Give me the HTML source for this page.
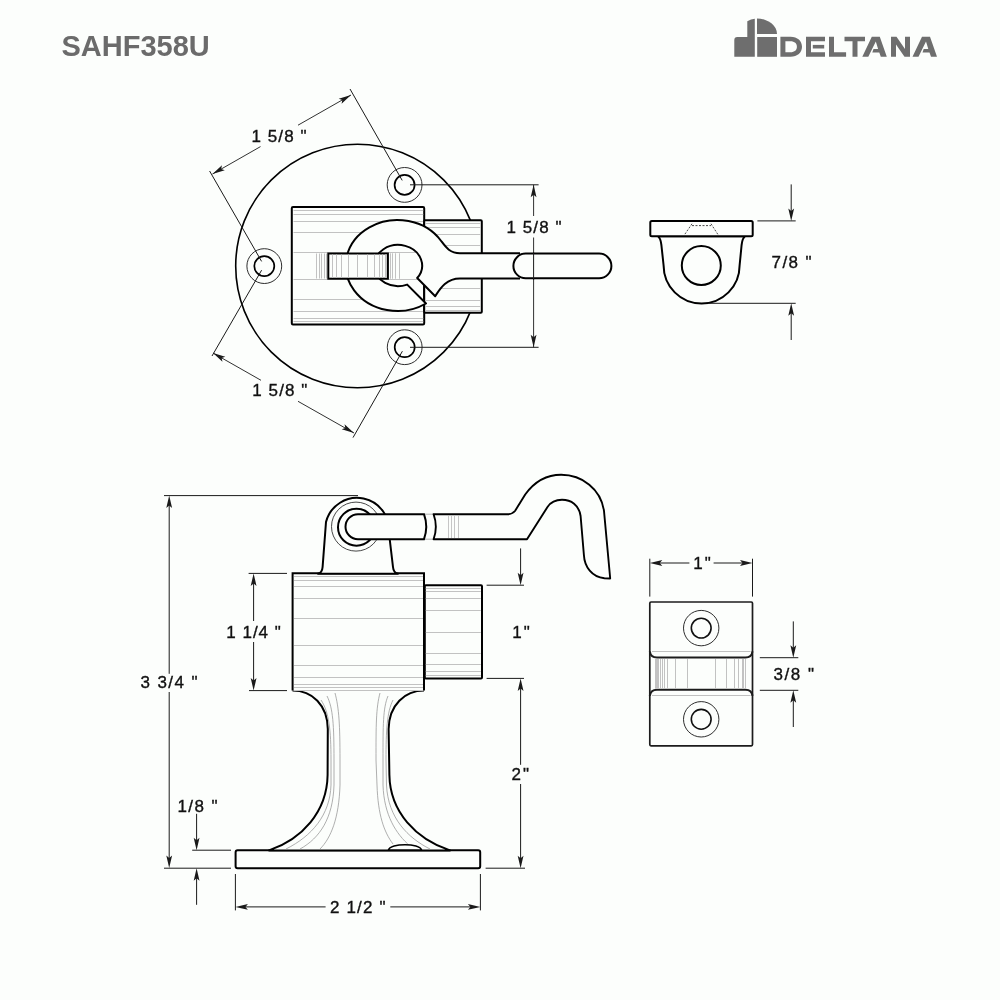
<!DOCTYPE html>
<html><head><meta charset="utf-8"><style>
html,body{margin:0;padding:0;background:#fcfefc;}
svg{display:block;will-change:transform;}
</style></head><body>
<svg width="1000" height="1000" viewBox="0 0 1000 1000">
<rect width="1000" height="1000" fill="#fcfefc"/>
<text x="61.5" y="55.8" font-family="Liberation Sans" font-size="29" font-weight="bold" fill="#6b6b6b">SAHF358U</text>
<path d="M734.3 40 Q734.3 37 737.3 37 L747.3 37 L747.3 21.3 Q751 19.2 754.8 18.8 L754.8 56.8 L734.3 56.8 Z" fill="#6e6e6e"/>
<path d="M757 18.5 A20 15.5 0 0 1 777 34 L757 34 Z" fill="#6e6e6e"/>
<rect x="757.2" y="37" width="19.8" height="19.8" fill="#6e6e6e"/>
<path d="M780.4 36.8 L790.5 36.8 C797.5 36.8 802 41 802 46.8 C802 52.6 797.5 56.8 790.5 56.8 L780.4 56.8 Z M785.4 41.3 L785.4 52.3 L790.3 52.3 C794.8 52.3 796.9 50 796.9 46.8 C796.9 43.6 794.8 41.3 790.3 41.3 Z" fill="#6e6e6e" fill-rule="evenodd"/>
<path d="M806 36.8 L825 36.8 L825 41.3 L811 41.3 L811 52.3 L825 52.3 L825 56.8 L806 56.8 Z" fill="#6e6e6e"/>
<rect x="812.8" y="44.9" width="11.4" height="3.6" fill="#6e6e6e"/>
<path d="M829 36.8 L834 36.8 L834 52.3 L846.1 52.3 L846.1 56.8 L829 56.8 Z" fill="#6e6e6e"/>
<path d="M844.5 36.8 L865 36.8 L865 41.3 L857.5 41.3 L857.5 56.8 L852.5 56.8 L852.5 41.3 L844.5 41.3 Z" fill="#6e6e6e"/>
<path d="M871.8 36.8 L879.8 36.8 L886.8 56.8 L880.8 56.8 L879.3 52.6 L872.3 52.6 L873.5 49 L878.1 49 L875.8 41.5 L868.3 56.8 L862.3 56.8 Z" fill="#6e6e6e"/>
<path d="M891 36.8 L896.5 36.8 L905 49 L905 36.8 L910 36.8 L910 56.8 L904.5 56.8 L896 44.6 L896 56.8 L891 56.8 Z" fill="#6e6e6e"/>
<path d="M922.0 36.8 L930.0 36.8 L937.0 56.8 L931.0 56.8 L929.5 52.6 L922.5 52.6 L923.7 49 L928.3 49 L926.0 41.5 L918.5 56.8 L912.5 56.8 Z" fill="#6e6e6e"/>
<circle cx="357.5" cy="266" r="121.8" fill="none" stroke="#000" stroke-width="1.6"/>
<circle cx="264.3" cy="266.1" r="17.4" fill="#fcfefc" stroke="#222" stroke-width="0.95"/>
<circle cx="264.3" cy="266.1" r="10" fill="none" stroke="#000" stroke-width="1.7"/>
<circle cx="404.6" cy="184.9" r="17.4" fill="#fcfefc" stroke="#222" stroke-width="0.95"/>
<circle cx="404.6" cy="184.9" r="10" fill="none" stroke="#000" stroke-width="1.7"/>
<circle cx="404.7" cy="347.2" r="17.4" fill="#fcfefc" stroke="#222" stroke-width="0.95"/>
<circle cx="404.7" cy="347.2" r="10" fill="none" stroke="#000" stroke-width="1.7"/>
<line x1="350.00" y1="89.00" x2="402.20" y2="180.40" stroke="#1a1a1a" stroke-width="1.0"/>
<line x1="209.60" y1="171.00" x2="261.60" y2="261.40" stroke="#1a1a1a" stroke-width="1.0"/>
<line x1="212.00" y1="356.00" x2="261.60" y2="270.20" stroke="#1a1a1a" stroke-width="1.0"/>
<line x1="353.00" y1="437.60" x2="402.40" y2="351.20" stroke="#1a1a1a" stroke-width="1.0"/>
<line x1="410.00" y1="184.80" x2="538.60" y2="184.80" stroke="#1a1a1a" stroke-width="1.0"/>
<line x1="410.00" y1="347.30" x2="538.60" y2="347.30" stroke="#1a1a1a" stroke-width="1.0"/>
<line x1="212.50" y1="174.00" x2="260.50" y2="146.60" stroke="#1a1a1a" stroke-width="0.9"/>
<line x1="298.00" y1="125.20" x2="351.00" y2="95.00" stroke="#1a1a1a" stroke-width="0.9"/>
<path d="M212.50 174.00 L221.92 165.29 L221.19 169.05 L224.79 170.33 Z" fill="#1a1a1a"/>
<path d="M351.00 95.00 L341.58 103.71 L342.31 99.95 L338.71 98.67 Z" fill="#1a1a1a"/>
<line x1="213.00" y1="353.00" x2="261.00" y2="380.30" stroke="#1a1a1a" stroke-width="0.9"/>
<line x1="298.00" y1="401.30" x2="354.00" y2="433.00" stroke="#1a1a1a" stroke-width="0.9"/>
<path d="M213.00 353.00 L225.30 356.65 L221.70 357.93 L222.44 361.69 Z" fill="#1a1a1a"/>
<path d="M354.00 433.00 L341.70 429.35 L345.30 428.07 L344.56 424.31 Z" fill="#1a1a1a"/>
<line x1="533.60" y1="184.80" x2="533.60" y2="216.00" stroke="#1a1a1a" stroke-width="0.9"/>
<line x1="533.60" y1="237.50" x2="533.60" y2="347.30" stroke="#1a1a1a" stroke-width="0.9"/>
<path d="M533.60 184.80 L536.50 197.30 L533.60 194.80 L530.70 197.30 Z" fill="#1a1a1a"/>
<path d="M533.60 347.30 L530.70 334.80 L533.60 337.30 L536.50 334.80 Z" fill="#1a1a1a"/>
<text class="dt" x="251.5" y="142.2" font-family="Liberation Sans" font-size="17" font-weight="normal" fill="#111" stroke="#111" stroke-width="0.35" textLength="55.0" lengthAdjust="spacing">1 5/8 &quot;</text>
<text class="dt" x="252.3" y="396.2" font-family="Liberation Sans" font-size="17" font-weight="normal" fill="#111" stroke="#111" stroke-width="0.35" textLength="55.0" lengthAdjust="spacing">1 5/8 &quot;</text>
<text class="dt" x="506.5" y="232.8" font-family="Liberation Sans" font-size="17" font-weight="normal" fill="#111" stroke="#111" stroke-width="0.35" textLength="55.0" lengthAdjust="spacing">1 5/8 &quot;</text>
<rect x="291.8" y="207.1" width="132.4" height="117.4" rx="1.2" fill="#fcfefc" stroke="#000" stroke-width="2.0"/>
<line x1="293.50" y1="210.50" x2="423.20" y2="210.50" stroke="#c2c2c2" stroke-width="1"/>
<line x1="293.50" y1="214.50" x2="423.20" y2="214.50" stroke="#c2c2c2" stroke-width="1"/>
<line x1="293.50" y1="221.50" x2="423.20" y2="221.50" stroke="#c2c2c2" stroke-width="1"/>
<line x1="293.50" y1="232.50" x2="423.20" y2="232.50" stroke="#c2c2c2" stroke-width="1"/>
<line x1="293.50" y1="252.50" x2="423.20" y2="252.50" stroke="#c2c2c2" stroke-width="1"/>
<line x1="293.50" y1="279.50" x2="423.20" y2="279.50" stroke="#c2c2c2" stroke-width="1"/>
<line x1="293.50" y1="299.50" x2="423.20" y2="299.50" stroke="#c2c2c2" stroke-width="1"/>
<line x1="293.50" y1="311.50" x2="423.20" y2="311.50" stroke="#c2c2c2" stroke-width="1"/>
<line x1="293.50" y1="318.50" x2="423.20" y2="318.50" stroke="#c2c2c2" stroke-width="1"/>
<line x1="293.50" y1="321.50" x2="423.20" y2="321.50" stroke="#c2c2c2" stroke-width="1"/>
<rect x="424.2" y="220.2" width="57.6" height="92.6" rx="1" fill="#fcfefc" stroke="#000" stroke-width="2.0"/>
<line x1="425.40" y1="223.50" x2="480.80" y2="223.50" stroke="#c2c2c2" stroke-width="1"/>
<line x1="425.40" y1="227.50" x2="480.80" y2="227.50" stroke="#c2c2c2" stroke-width="1"/>
<line x1="425.40" y1="234.50" x2="480.80" y2="234.50" stroke="#c2c2c2" stroke-width="1"/>
<line x1="425.40" y1="245.50" x2="480.80" y2="245.50" stroke="#c2c2c2" stroke-width="1"/>
<line x1="425.40" y1="288.50" x2="480.80" y2="288.50" stroke="#c2c2c2" stroke-width="1"/>
<line x1="425.40" y1="300.50" x2="480.80" y2="300.50" stroke="#c2c2c2" stroke-width="1"/>
<line x1="425.40" y1="306.50" x2="480.80" y2="306.50" stroke="#c2c2c2" stroke-width="1"/>
<line x1="425.40" y1="310.50" x2="480.80" y2="310.50" stroke="#c2c2c2" stroke-width="1"/>
<line x1="316.50" y1="253.50" x2="316.50" y2="278.50" stroke="#c2c2c2" stroke-width="1"/>
<line x1="319.50" y1="253.50" x2="319.50" y2="278.50" stroke="#c2c2c2" stroke-width="1"/>
<line x1="321.50" y1="253.50" x2="321.50" y2="278.50" stroke="#c2c2c2" stroke-width="1"/>
<line x1="324.50" y1="253.50" x2="324.50" y2="278.50" stroke="#c2c2c2" stroke-width="1"/>
<line x1="326.50" y1="253.50" x2="326.50" y2="278.50" stroke="#c2c2c2" stroke-width="1"/>
<line x1="390.50" y1="253.50" x2="390.50" y2="278.50" stroke="#c2c2c2" stroke-width="1"/>
<line x1="392.50" y1="253.50" x2="392.50" y2="278.50" stroke="#c2c2c2" stroke-width="1"/>
<line x1="395.50" y1="253.50" x2="395.50" y2="278.50" stroke="#c2c2c2" stroke-width="1"/>
<line x1="399.50" y1="253.50" x2="399.50" y2="278.50" stroke="#c2c2c2" stroke-width="1"/>
<path d="M520 253.2 L460 253.2 C450 253.2 446 247.5 441.15 241 A51.8 45.5 0 1 0 426 303.5 L407.2 284.6 A24 20.6 0 1 1 417.2 278 L435.2 296.2 C440 289 446 278.6 460 278.6 L520 278.6" fill="#fcfefc" fill-rule="evenodd" stroke="#000" stroke-width="2.0" stroke-linejoin="round"/>
<line x1="388.00" y1="252.50" x2="415.00" y2="252.50" stroke="#c2c2c2" stroke-width="1"/>
<line x1="388.00" y1="279.50" x2="406.00" y2="279.50" stroke="#c2c2c2" stroke-width="1"/>
<line x1="390.50" y1="253.50" x2="390.50" y2="278.50" stroke="#c2c2c2" stroke-width="1"/>
<line x1="392.50" y1="253.50" x2="392.50" y2="278.50" stroke="#c2c2c2" stroke-width="1"/>
<line x1="395.50" y1="253.50" x2="395.50" y2="278.50" stroke="#c2c2c2" stroke-width="1"/>
<line x1="399.50" y1="253.50" x2="399.50" y2="278.50" stroke="#c2c2c2" stroke-width="1"/>
<rect x="328.3" y="253.5" width="59.6" height="25.2" fill="#fcfefc" stroke="#000" stroke-width="2.0"/>
<line x1="332.50" y1="254.50" x2="332.50" y2="277.70" stroke="#c2c2c2" stroke-width="1"/>
<line x1="336.50" y1="254.50" x2="336.50" y2="277.70" stroke="#c2c2c2" stroke-width="1"/>
<line x1="341.50" y1="254.50" x2="341.50" y2="277.70" stroke="#c2c2c2" stroke-width="1"/>
<line x1="348.50" y1="254.50" x2="348.50" y2="277.70" stroke="#c2c2c2" stroke-width="1"/>
<line x1="357.50" y1="254.50" x2="357.50" y2="277.70" stroke="#c2c2c2" stroke-width="1"/>
<line x1="367.50" y1="254.50" x2="367.50" y2="277.70" stroke="#c2c2c2" stroke-width="1"/>
<line x1="374.50" y1="254.50" x2="374.50" y2="277.70" stroke="#c2c2c2" stroke-width="1"/>
<line x1="379.50" y1="254.50" x2="379.50" y2="277.70" stroke="#c2c2c2" stroke-width="1"/>
<line x1="382.50" y1="254.50" x2="382.50" y2="277.70" stroke="#c2c2c2" stroke-width="1"/>
<line x1="385.50" y1="254.50" x2="385.50" y2="277.70" stroke="#c2c2c2" stroke-width="1"/>
<line x1="386.50" y1="254.50" x2="386.50" y2="277.70" stroke="#c2c2c2" stroke-width="1"/>
<rect x="513.4" y="253.6" width="98.0" height="24.6" rx="12.3" fill="#fcfefc" stroke="#000" stroke-width="2.0"/>
<line x1="533.60" y1="252.00" x2="533.60" y2="280.00" stroke="#1a1a1a" stroke-width="1.0"/>
<path d="M658 236.2 C661 238.5 661 242 661.5 246 L663.6 265.5 A38 38 0 0 0 739.6 265.5 L741.5 246 C742 242 742 238.5 745 236.2 Z" fill="#fcfefc" stroke="#000" stroke-width="2.0"/>
<rect x="650.3" y="221.0" width="102.4" height="15.2" rx="1.5" fill="#fcfefc" stroke="#000" stroke-width="2.0"/>
<path d="M692 225.6 L711 225.6 M692 223.8 L684.6 234.6 M711 223.8 L718 234.6" stroke="#333" stroke-width="0.9" stroke-dasharray="2 1.5" fill="none"/>
<circle cx="701.3" cy="265.5" r="19.5" fill="none" stroke="#000" stroke-width="2.0"/>
<line x1="757.40" y1="220.90" x2="795.70" y2="220.90" stroke="#1a1a1a" stroke-width="1.0"/>
<line x1="708.40" y1="303.30" x2="795.70" y2="303.30" stroke="#1a1a1a" stroke-width="1.0"/>
<line x1="791.20" y1="184.40" x2="791.20" y2="215.00" stroke="#1a1a1a" stroke-width="1.0"/>
<path d="M791.20 220.90 L788.30 208.40 L791.20 210.90 L794.10 208.40 Z" fill="#1a1a1a"/>
<line x1="791.20" y1="309.00" x2="791.20" y2="340.00" stroke="#1a1a1a" stroke-width="1.0"/>
<path d="M791.20 303.30 L794.10 315.80 L791.20 313.30 L788.30 315.80 Z" fill="#1a1a1a"/>
<text class="dt" x="771.6" y="268.2" font-family="Liberation Sans" font-size="17" font-weight="normal" fill="#111" stroke="#111" stroke-width="0.35" textLength="40.0" lengthAdjust="spacing">7/8 &quot;</text>
<rect x="235.6" y="850.3" width="244.6" height="18.0" rx="2" fill="#fcfefc" stroke="#000" stroke-width="2.0"/>
<path d="M292.5 690.6 C312 690.6 327.5 705 327.8 729 L327.6 775 C327 812 302 839 269 850.4 L450 850.4 C416 839 390 812 389.4 775 L388.6 729 C389 705 405 690.6 424 690.6" fill="#fcfefc" stroke="#000" stroke-width="2.0" stroke-linejoin="round"/>
<path d="M321 700 C329 712 331 730 331 760 L331 785 C330 815 312 836 286 849" fill="none" stroke="#9a9a9a" stroke-width="0.8"/>
<path d="M327 696 C333 708 334 725 334 760 L334 785 C333 818 320 838 300 849" fill="none" stroke="#9a9a9a" stroke-width="0.8"/>
<path d="M335 693 C339 708 340 725 340 760 L340 785 C339 818 331 838 320 849" fill="none" stroke="#9a9a9a" stroke-width="0.8"/>
<path d="M380 693 C376 708 376 725 376 760 L377 785 C378 815 384 832 393 844" fill="none" stroke="#9a9a9a" stroke-width="0.8"/>
<path d="M388 696 C383 708 383 725 383 760 L383 785 C384 815 396 834 410 846" fill="none" stroke="#9a9a9a" stroke-width="0.8"/>
<path d="M393 700 C387 712 386 730 386 760 L386.5 785 C388 818 408 838 430 849" fill="none" stroke="#9a9a9a" stroke-width="0.8"/>
<path d="M388.5 850 C390 843 420 843 421.5 850 Z" fill="#fcfefc" stroke="#000" stroke-width="1.6"/>
<rect x="292.5" y="573.2" width="131.5" height="117.4" fill="#fcfefc"/>
<path d="M292.6 690.6 L292.6 573.2 L424 573.2 L424 690.6" fill="none" stroke="#000" stroke-width="2.0"/>
<line x1="294.00" y1="576.50" x2="423.00" y2="576.50" stroke="#c2c2c2" stroke-width="1"/>
<line x1="294.00" y1="580.50" x2="423.00" y2="580.50" stroke="#c2c2c2" stroke-width="1"/>
<line x1="294.00" y1="586.50" x2="423.00" y2="586.50" stroke="#c2c2c2" stroke-width="1"/>
<line x1="294.00" y1="598.50" x2="423.00" y2="598.50" stroke="#c2c2c2" stroke-width="1"/>
<line x1="294.00" y1="618.50" x2="423.00" y2="618.50" stroke="#c2c2c2" stroke-width="1"/>
<line x1="294.00" y1="645.50" x2="423.00" y2="645.50" stroke="#c2c2c2" stroke-width="1"/>
<line x1="294.00" y1="665.50" x2="423.00" y2="665.50" stroke="#c2c2c2" stroke-width="1"/>
<line x1="294.00" y1="677.50" x2="423.00" y2="677.50" stroke="#c2c2c2" stroke-width="1"/>
<line x1="294.00" y1="684.50" x2="423.00" y2="684.50" stroke="#c2c2c2" stroke-width="1"/>
<line x1="294.00" y1="687.50" x2="423.00" y2="687.50" stroke="#c2c2c2" stroke-width="1"/>
<line x1="294.00" y1="690.50" x2="423.00" y2="690.50" stroke="#c2c2c2" stroke-width="1"/>
<rect x="424.8" y="585.2" width="57.2" height="93.3" rx="1" fill="#fcfefc" stroke="#000" stroke-width="2.0"/>
<line x1="425.80" y1="588.50" x2="480.80" y2="588.50" stroke="#c2c2c2" stroke-width="1"/>
<line x1="425.80" y1="591.50" x2="480.80" y2="591.50" stroke="#c2c2c2" stroke-width="1"/>
<line x1="425.80" y1="598.50" x2="480.80" y2="598.50" stroke="#c2c2c2" stroke-width="1"/>
<line x1="425.80" y1="610.50" x2="480.80" y2="610.50" stroke="#c2c2c2" stroke-width="1"/>
<line x1="425.80" y1="632.50" x2="480.80" y2="632.50" stroke="#c2c2c2" stroke-width="1"/>
<line x1="425.80" y1="653.50" x2="480.80" y2="653.50" stroke="#c2c2c2" stroke-width="1"/>
<line x1="425.80" y1="664.50" x2="480.80" y2="664.50" stroke="#c2c2c2" stroke-width="1"/>
<line x1="425.80" y1="671.50" x2="480.80" y2="671.50" stroke="#c2c2c2" stroke-width="1"/>
<line x1="425.80" y1="675.50" x2="480.80" y2="675.50" stroke="#c2c2c2" stroke-width="1"/>
<path d="M318 573.8 C321 573 322.3 571 322.6 567 L326 522 A32 32 0 0 1 388.6 535 L389.8 540 L393 567 C393.3 571 395 573 398 573.8 Z" fill="#fcfefc" stroke="#000" stroke-width="2.0" stroke-linejoin="round"/>
<circle cx="356" cy="526.6" r="24.5" fill="none" stroke="#333" stroke-width="0.9"/>
<circle cx="356.5" cy="527.2" r="18.5" fill="none" stroke="#000" stroke-width="2.0"/>
<path d="M358 514.2 L424 514.2 A37 37 0 0 1 424 539.2 L358 539.2 A12.5 12.5 0 0 1 358 514.2 Z" fill="#fcfefc" stroke="#000" stroke-width="2.0"/>
<line x1="425.00" y1="514.20" x2="434.00" y2="514.20" stroke="#999" stroke-width="0.8"/>
<line x1="425.00" y1="539.20" x2="434.00" y2="539.20" stroke="#999" stroke-width="0.8"/>
<path d="M433.6 514.2 L507.8 514.2 C511 514.2 513 513.3 515 511 L525.2 494.5 C535 481 548 474.8 561.2 474.8 C582 474.8 601 489 604 511 L610.2 578.5 L604.4 578.3 C592 577 584.5 567 583.9 555 L580.6 516 C579 505 571 499.8 562 499.8 C556 499.8 550.5 502.5 547.5 507 L527 539.2 L433.6 539.2 A37 37 0 0 0 433.6 514.2 Z" fill="#fcfefc" stroke="#000" stroke-width="1.9" stroke-linejoin="round"/>
<line x1="448.50" y1="515.50" x2="448.50" y2="538.00" stroke="#b8b8b8" stroke-width="0.8"/>
<line x1="451.50" y1="515.50" x2="451.50" y2="538.00" stroke="#b8b8b8" stroke-width="0.8"/>
<line x1="454.50" y1="515.50" x2="454.50" y2="538.00" stroke="#b8b8b8" stroke-width="0.8"/>
<line x1="458.50" y1="515.50" x2="458.50" y2="538.00" stroke="#b8b8b8" stroke-width="0.8"/>
<line x1="164.00" y1="495.60" x2="358.00" y2="495.60" stroke="#1a1a1a" stroke-width="1.0"/>
<line x1="169.20" y1="501.00" x2="169.20" y2="673.80" stroke="#1a1a1a" stroke-width="1.0"/>
<line x1="169.20" y1="692.00" x2="169.20" y2="862.00" stroke="#1a1a1a" stroke-width="1.0"/>
<path d="M169.20 495.60 L172.10 508.10 L169.20 505.60 L166.30 508.10 Z" fill="#1a1a1a"/>
<path d="M169.20 868.00 L166.30 855.50 L169.20 858.00 L172.10 855.50 Z" fill="#1a1a1a"/>
<line x1="164.00" y1="868.20" x2="231.00" y2="868.20" stroke="#1a1a1a" stroke-width="1.0"/>
<text class="dt" x="140.5" y="688.0" font-family="Liberation Sans" font-size="17" font-weight="normal" fill="#111" stroke="#111" stroke-width="0.35" textLength="57.0" lengthAdjust="spacing">3 3/4 &quot;</text>
<line x1="248.60" y1="573.40" x2="287.00" y2="573.40" stroke="#1a1a1a" stroke-width="1.0"/>
<line x1="249.00" y1="690.60" x2="287.00" y2="690.60" stroke="#1a1a1a" stroke-width="1.0"/>
<line x1="253.60" y1="579.00" x2="253.60" y2="621.00" stroke="#1a1a1a" stroke-width="1.0"/>
<line x1="253.60" y1="642.00" x2="253.60" y2="685.00" stroke="#1a1a1a" stroke-width="1.0"/>
<path d="M253.60 573.40 L256.50 585.90 L253.60 583.40 L250.70 585.90 Z" fill="#1a1a1a"/>
<path d="M253.60 690.60 L250.70 678.10 L253.60 680.60 L256.50 678.10 Z" fill="#1a1a1a"/>
<text class="dt" x="226.3" y="637.8" font-family="Liberation Sans" font-size="17" font-weight="normal" fill="#111" stroke="#111" stroke-width="0.35" textLength="54.5" lengthAdjust="spacing">1 1/4 &quot;</text>
<line x1="192.20" y1="850.20" x2="231.00" y2="850.20" stroke="#1a1a1a" stroke-width="1.0"/>
<line x1="196.60" y1="813.80" x2="196.60" y2="845.00" stroke="#1a1a1a" stroke-width="1.0"/>
<path d="M196.60 850.20 L193.70 837.70 L196.60 840.20 L199.50 837.70 Z" fill="#1a1a1a"/>
<line x1="196.60" y1="874.00" x2="196.60" y2="904.80" stroke="#1a1a1a" stroke-width="1.0"/>
<path d="M196.60 868.20 L199.50 880.70 L196.60 878.20 L193.70 880.70 Z" fill="#1a1a1a"/>
<text class="dt" x="177.5" y="811.8" font-family="Liberation Sans" font-size="17" font-weight="normal" fill="#111" stroke="#111" stroke-width="0.35" textLength="40.0" lengthAdjust="spacing">1/8 &quot;</text>
<line x1="235.40" y1="874.00" x2="235.40" y2="910.40" stroke="#1a1a1a" stroke-width="1.0"/>
<line x1="480.40" y1="874.00" x2="480.40" y2="910.40" stroke="#1a1a1a" stroke-width="1.0"/>
<line x1="241.00" y1="906.90" x2="325.60" y2="906.90" stroke="#1a1a1a" stroke-width="1.0"/>
<line x1="390.30" y1="906.90" x2="474.80" y2="906.90" stroke="#1a1a1a" stroke-width="1.0"/>
<path d="M235.40 906.90 L247.90 904.00 L245.40 906.90 L247.90 909.80 Z" fill="#1a1a1a"/>
<path d="M480.40 906.90 L467.90 909.80 L470.40 906.90 L467.90 904.00 Z" fill="#1a1a1a"/>
<text class="dt" x="330.0" y="913.0" font-family="Liberation Sans" font-size="17" font-weight="normal" fill="#111" stroke="#111" stroke-width="0.35" textLength="55.5" lengthAdjust="spacing">2 1/2 &quot;</text>
<line x1="486.60" y1="585.20" x2="524.00" y2="585.20" stroke="#1a1a1a" stroke-width="1.0"/>
<line x1="486.60" y1="678.40" x2="524.00" y2="678.40" stroke="#1a1a1a" stroke-width="1.0"/>
<line x1="485.60" y1="868.20" x2="525.00" y2="868.20" stroke="#1a1a1a" stroke-width="1.0"/>
<line x1="520.60" y1="548.40" x2="520.60" y2="580.00" stroke="#1a1a1a" stroke-width="1.0"/>
<path d="M520.60 585.20 L517.70 572.70 L520.60 575.20 L523.50 572.70 Z" fill="#1a1a1a"/>
<line x1="520.60" y1="684.00" x2="520.60" y2="764.80" stroke="#1a1a1a" stroke-width="1.0"/>
<line x1="520.60" y1="784.00" x2="520.60" y2="862.00" stroke="#1a1a1a" stroke-width="1.0"/>
<path d="M520.60 678.40 L523.50 690.90 L520.60 688.40 L517.70 690.90 Z" fill="#1a1a1a"/>
<path d="M520.60 868.20 L517.70 855.70 L520.60 858.20 L523.50 855.70 Z" fill="#1a1a1a"/>
<text class="dt" x="512.2" y="638.0" font-family="Liberation Sans" font-size="17" font-weight="normal" fill="#111" stroke="#111" stroke-width="0.35" textLength="17.5" lengthAdjust="spacing">1&quot;</text>
<text class="dt" x="511.6" y="780.4" font-family="Liberation Sans" font-size="17" font-weight="normal" fill="#111" stroke="#111" stroke-width="0.35" textLength="17.5" lengthAdjust="spacing">2&quot;</text>
<rect x="649.8" y="602" width="102.7" height="143.8" rx="1.2" fill="#fcfefc" stroke="#1c1c1c" stroke-width="1.7"/>
<path d="M649.8 651.4 C650.3 655 652.5 657.6 657 657.6 L745.5 657.6 C750 657.6 752 655 752.5 651.4" fill="none" stroke="#1c1c1c" stroke-width="2.0"/>
<path d="M649.8 695.8 C650.3 692 652.5 689.8 657 689.8 L745.5 689.8 C750 689.8 752 692 752.5 695.8" fill="none" stroke="#1c1c1c" stroke-width="2.0"/>
<line x1="652.00" y1="651.50" x2="750.50" y2="651.50" stroke="#c0c0c0" stroke-width="1"/>
<line x1="652.00" y1="695.50" x2="750.50" y2="695.50" stroke="#c0c0c0" stroke-width="1"/>
<line x1="655.50" y1="659.00" x2="655.50" y2="688.80" stroke="#c2c2c2" stroke-width="1"/>
<line x1="656.50" y1="659.00" x2="656.50" y2="688.80" stroke="#c2c2c2" stroke-width="1"/>
<line x1="657.50" y1="659.00" x2="657.50" y2="688.80" stroke="#c2c2c2" stroke-width="1"/>
<line x1="658.50" y1="659.00" x2="658.50" y2="688.80" stroke="#c2c2c2" stroke-width="1"/>
<line x1="660.50" y1="659.00" x2="660.50" y2="688.80" stroke="#c2c2c2" stroke-width="1"/>
<line x1="662.50" y1="659.00" x2="662.50" y2="688.80" stroke="#c2c2c2" stroke-width="1"/>
<line x1="664.50" y1="659.00" x2="664.50" y2="688.80" stroke="#c2c2c2" stroke-width="1"/>
<line x1="667.50" y1="659.00" x2="667.50" y2="688.80" stroke="#c2c2c2" stroke-width="1"/>
<line x1="675.50" y1="659.00" x2="675.50" y2="688.80" stroke="#c2c2c2" stroke-width="1"/>
<line x1="687.50" y1="659.00" x2="687.50" y2="688.80" stroke="#c2c2c2" stroke-width="1"/>
<line x1="715.50" y1="659.00" x2="715.50" y2="688.80" stroke="#c2c2c2" stroke-width="1"/>
<line x1="726.50" y1="659.00" x2="726.50" y2="688.80" stroke="#c2c2c2" stroke-width="1"/>
<line x1="734.50" y1="659.00" x2="734.50" y2="688.80" stroke="#c2c2c2" stroke-width="1"/>
<line x1="738.50" y1="659.00" x2="738.50" y2="688.80" stroke="#c2c2c2" stroke-width="1"/>
<line x1="742.50" y1="659.00" x2="742.50" y2="688.80" stroke="#c2c2c2" stroke-width="1"/>
<line x1="743.50" y1="659.00" x2="743.50" y2="688.80" stroke="#c2c2c2" stroke-width="1"/>
<line x1="745.50" y1="659.00" x2="745.50" y2="688.80" stroke="#c2c2c2" stroke-width="1"/>
<circle cx="701.2" cy="628.1" r="17.7" fill="none" stroke="#222" stroke-width="0.95"/>
<circle cx="701.2" cy="628.1" r="9.9" fill="none" stroke="#111" stroke-width="1.6"/>
<circle cx="701.2" cy="719.3" r="17.7" fill="none" stroke="#222" stroke-width="0.95"/>
<circle cx="701.2" cy="719.3" r="9.9" fill="none" stroke="#111" stroke-width="1.6"/>
<line x1="649.80" y1="558.70" x2="649.80" y2="596.60" stroke="#1a1a1a" stroke-width="1.0"/>
<line x1="752.50" y1="558.70" x2="752.50" y2="596.60" stroke="#1a1a1a" stroke-width="1.0"/>
<line x1="656.00" y1="563.00" x2="689.40" y2="563.00" stroke="#1a1a1a" stroke-width="1.0"/>
<line x1="713.60" y1="563.00" x2="746.50" y2="563.00" stroke="#1a1a1a" stroke-width="1.0"/>
<path d="M649.80 563.00 L662.30 560.10 L659.80 563.00 L662.30 565.90 Z" fill="#1a1a1a"/>
<path d="M752.50 563.00 L740.00 565.90 L742.50 563.00 L740.00 560.10 Z" fill="#1a1a1a"/>
<text class="dt" x="693.3" y="568.8" font-family="Liberation Sans" font-size="17" font-weight="normal" fill="#111" stroke="#111" stroke-width="0.35" textLength="17.5" lengthAdjust="spacing">1&quot;</text>
<line x1="759.80" y1="657.70" x2="798.30" y2="657.70" stroke="#1a1a1a" stroke-width="1.0"/>
<line x1="759.80" y1="690.30" x2="798.30" y2="690.30" stroke="#1a1a1a" stroke-width="1.0"/>
<line x1="793.30" y1="621.40" x2="793.30" y2="652.00" stroke="#1a1a1a" stroke-width="1.0"/>
<path d="M793.30 657.70 L790.40 645.20 L793.30 647.70 L796.20 645.20 Z" fill="#1a1a1a"/>
<line x1="793.30" y1="696.00" x2="793.30" y2="727.00" stroke="#1a1a1a" stroke-width="1.0"/>
<path d="M793.30 690.30 L796.20 702.80 L793.30 700.30 L790.40 702.80 Z" fill="#1a1a1a"/>
<text class="dt" x="773.5" y="679.9" font-family="Liberation Sans" font-size="17" font-weight="normal" fill="#111" stroke="#111" stroke-width="0.35" textLength="40.5" lengthAdjust="spacing">3/8 &quot;</text>
</svg>
</body></html>
